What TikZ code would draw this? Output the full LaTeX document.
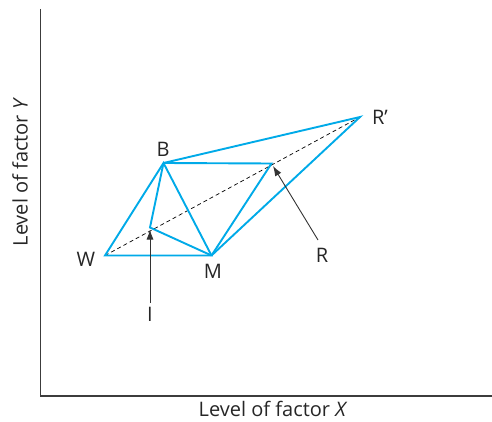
\documentclass[tikz,border=0pt]{standalone}
\usepackage{fontspec}
\setmainfont{Open Sans}
\usetikzlibrary{arrows.meta}
\definecolor{simplex}{RGB}{0,170,232}
\definecolor{axisgray}{RGB}{60,60,60}
\tikzset{
  edge/.style={draw=simplex, line width=1.9pt, line join=miter},
  axisline/.style={draw=axisgray, line width=1.3pt},
  guide/.style={draw=black, line width=0.7pt, dash pattern=on 4pt off 3pt},
  pointer/.style={draw=black!80, line width=0.9pt, -{Latex[length=10pt,width=7pt]}},
  lab/.style={font=\fontsize{20}{24}\selectfont, inner sep=0pt, text=black!85}
}
\begin{document}
\begin{tikzpicture}[x=1pt,y=-1pt]
\useasboundingbox (0,0) rectangle (492,422);
% axes
\coordinate (top) at (40.7,9);
\coordinate (origin) at (40.7,396);
\coordinate (xend) at (492,396);
\draw[axisline] (top) -- (origin) -- (xend);
\node[lab, anchor=base] (xlab) at (273,416.5) {Level of factor \textit{X}};
\node[lab, rotate=90] (ylab) at (20,172) {Level of factor \textit{Y}};
% vertices
\coordinate (W) at (105,255.5);
\coordinate (B) at (163.5,163);
\coordinate (M) at (211.5,255.5);
\coordinate (I) at (150,227.5);
\coordinate (R) at (271.5,163.5);
\coordinate (Rp) at (360,117);
% dashed guide
\draw[guide] (W) -- (Rp);
% simplex edges
\draw[edge] (M) -- (W) -- (B) -- cycle;
\draw[edge] (B) -- (I) -- (M);
\draw[edge] (B) -- (R) -- (M);
\draw[edge] (B) -- (Rp) -- (M);
% labels
\node[lab] (Wl) at (86,259) {W};
\node[lab] (Bl) at (163,149) {B};
\node[lab] (Ml) at (213,271) {M};
\node[lab] (Rl) at (322,255) {R};
\node[lab] (Rpl) at (380,117) {R’};
\node[lab] (Il) at (150,314) {I};
% pointers
\coordinate (Rtail) at (318,240);
\coordinate (Rtip) at (273,166);
\coordinate (Itail) at (150,303);
\coordinate (Itip) at (150,229.5);
\draw[pointer] (Rtail) -- (Rtip);
\draw[pointer] (Itail) -- (Itip);
\end{tikzpicture}
\end{document}
